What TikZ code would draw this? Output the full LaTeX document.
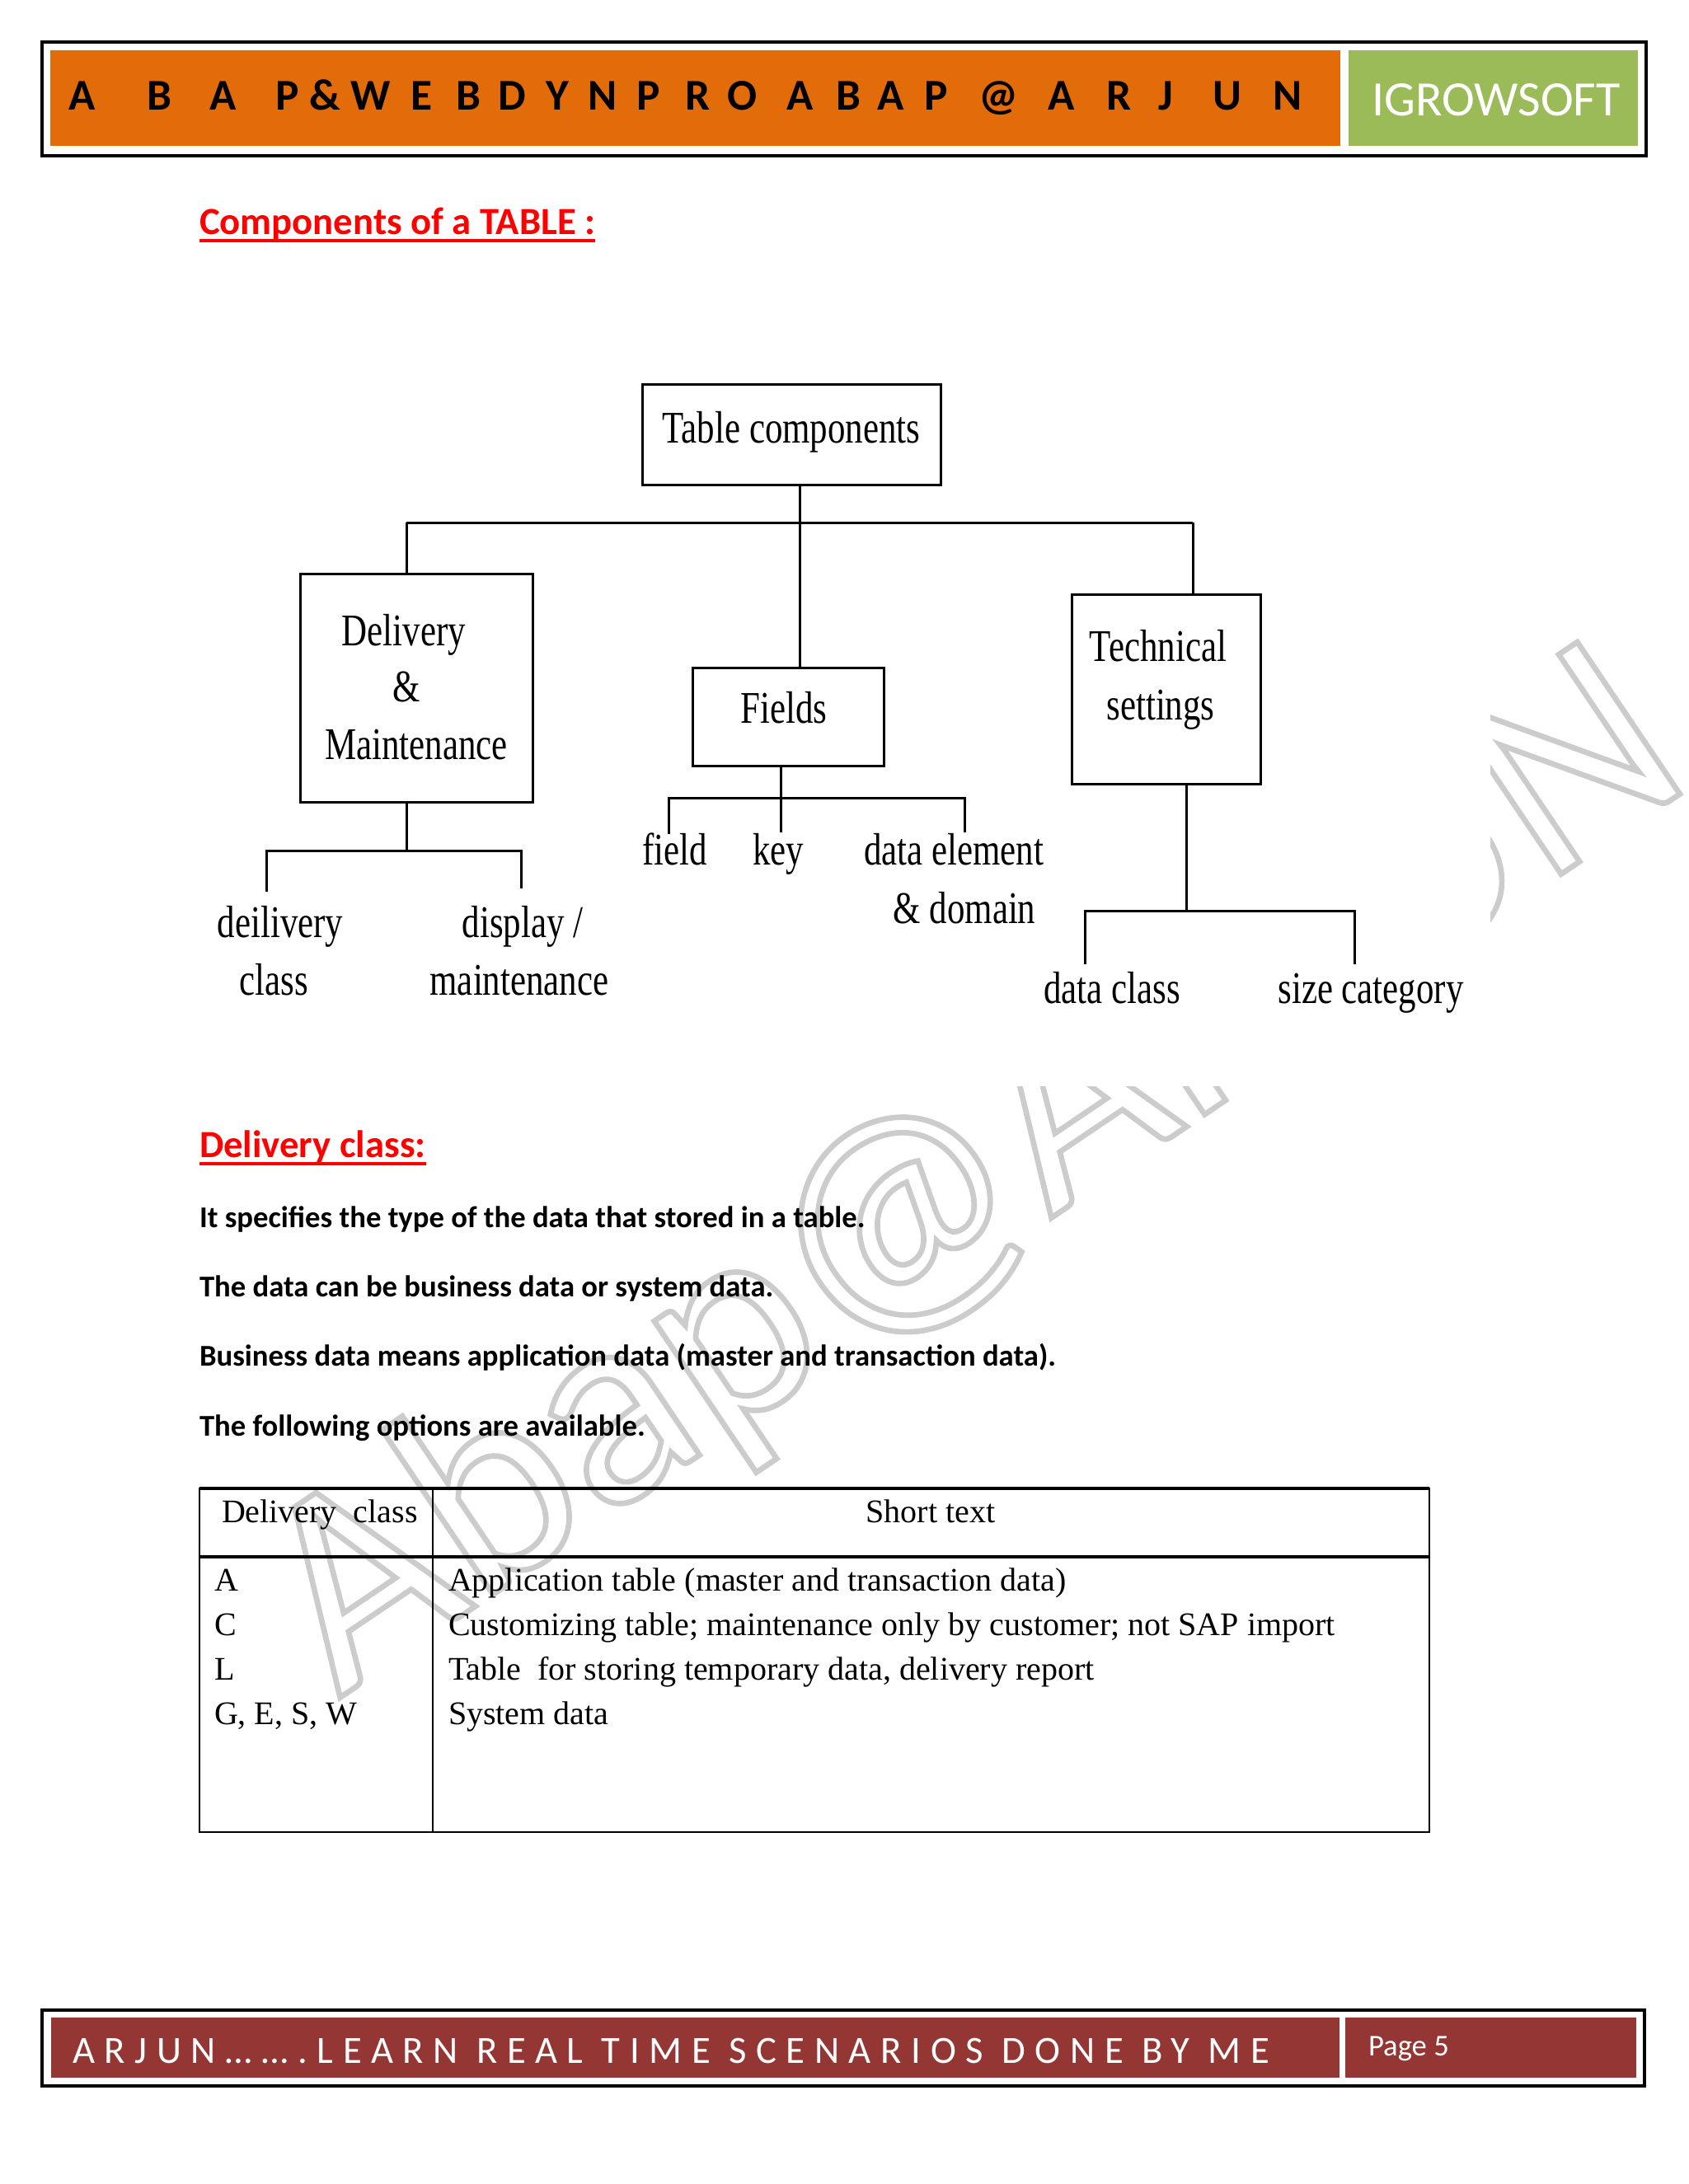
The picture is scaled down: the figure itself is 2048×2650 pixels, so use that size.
\documentclass[tikz,border=0pt]{standalone}
\usepackage{fontspec}
\setmainfont{Carlito}
\newfontfamily\serifn{Liberation Serif}
\newfontfamily\serifc[FakeStretch=0.78]{Liberation Serif}
\newfontfamily\spacedf[LetterSpace=25]{Carlito}
\usetikzlibrary{fit}
\definecolor{hdrorange}{RGB}{227,108,10}
\definecolor{hdrgreen}{RGB}{155,187,89}
\definecolor{ftrred}{RGB}{148,54,52}
\definecolor{headred}{RGB}{255,0,0}
\newcommand{\outlinetext}[1]{\special{pdf:literal direct 1 Tr 0.8 G 2 w}#1\special{pdf:literal direct 0 Tr 0 G 1 w}}
\begin{document}
\begin{tikzpicture}[x=0.29995pt,y=-0.29995pt,
  every node/.style={inner sep=0pt,outer sep=0pt},
  hl/.style={anchor=base,font=\bfseries\fontsize{16}{16}\selectfont},
  wm/.style={anchor=base,rotate=34,font=\fontsize{104}{104}\selectfont},
  heading/.style={anchor=base west,text=headred,font=\bfseries\fontsize{14}{14}\selectfont},
  body/.style={anchor=base west,font=\bfseries\fontsize{11}{11}\selectfont},
  box/.style={draw,line width=0.9pt,inner sep=0pt},
  tlab/.style={anchor=base,font=\serifc\fontsize{16.5}{20}\selectfont},
  conn/.style={line width=0.9pt},
  cell/.style={anchor=base west,font=\serifn\fontsize{12}{12}\selectfont},
  rule/.style={line width=0.8pt}]
\useasboundingbox (0,0) rectangle (2048,2650);
\fill[white] (0,0) rectangle (2048,2650);

% ---------- watermark ----------
\coordinate (wmc) at (1235,1505);
\node[wm] (wm) at (wmc) {\outlinetext{Abap@ARJUN}};
% area of the pasted diagram (covers the watermark)
\fill[white] (200,330) rectangle (1808,1318);

% ---------- header ----------
\draw[line width=1.2pt] (51,51) rectangle (1997,189);
\fill[hdrorange] (61,61) rectangle (1626,177);
\fill[hdrgreen] (1636,61) rectangle (1987,177);
\foreach \x/\l [count=\i] in {100/A,193/B,271/A,349/P,394/\&,450/W,512/E,568/B,621/D,676/Y,731/N,787/P,847/R,901/O,971/A,1029/B,1081/A,1136/P,1211/@,1288/A,1358/R,1414/J,1489/U,1562/N}
  \node[hl] (hl\i) at (\x,133) {\l};
\node[anchor=base,text=white,font=\fontsize{18}{18}\selectfont] (logo) at (1815,140) {IGROWSOFT};

% ---------- title ----------
\node[heading] (title) at (242,284) {Components of a TABLE :};
\draw[headred,line width=1.1pt] ([yshift=-2.4pt]title.base west) -- ([yshift=-2.4pt]title.base east);

% ---------- tree ----------
\node[box,fit={(779,466) (1141,588)}] (root) {};
\node[tlab] (rootT) at (960,537) {Table components};

\node[box,fit={(364,696) (646,973)}] (dm) {};
\node[tlab] (dmA) at (490,783) {Delivery};
\node[tlab] (dmB) at (493,851) {\&};
\node[tlab] (dmC) at (505,921) {Maintenance};

\node[box,fit={(840,810) (1072,929)}] (fields) {};
\node[tlab] (fieldsT) at (951,877) {Fields};

\node[box,fit={(1300,721) (1529,951)}] (tech) {};
\node[tlab] (techA) at (1405,802) {Technical};
\node[tlab] (techB) at (1408,873) {settings};

\node[tlab] (dc1) at (340,1137) {deilivery};
\node[tlab] (dc2) at (332,1207) {class};
\node[tlab] (dsp1) at (634,1137) {display /};
\node[tlab] (dsp2) at (630,1207) {maintenance};

\node[tlab] (fld) at (819,1049) {field};
\node[tlab] (key) at (944,1049) {key};
\node[tlab] (de1) at (1157,1049) {data element};
\node[tlab] (de2) at (1170,1120) {\& domain};

\node[tlab] (dcl) at (1349,1217) {data class};
\node[tlab] (szc) at (1663,1217) {size category};

% connectors: root
\coordinate (j0) at (970,634);
\coordinate (jL) at (493,634);
\coordinate (jR) at (1447,634);
\draw[conn] (root.south -| j0) -- (j0);
\draw[conn] (jL) -- (jR);
\draw[conn] (jL) -- (dm.north -| jL);
\draw[conn] (j0) -- (fields.north -| j0);
\draw[conn] (jR) -- (tech.north -| jR);
% delivery subtree
\coordinate (d0) at (493,1032);
\coordinate (dL) at (323,1032);
\coordinate (dR) at (632,1032);
\coordinate (dLe) at (323,1082);
\coordinate (dRe) at (632,1078);
\draw[conn] (dm.south -| d0) -- (d0);
\draw[conn] (dLe) -- (dL) -- (dR) -- (dRe);
% fields subtree
\coordinate (f0) at (947,968);
\coordinate (fL) at (811,968);
\coordinate (fR) at (1170,968);
\coordinate (fLe) at (811,1012);
\coordinate (f0e) at (947,1010);
\coordinate (fRe) at (1170,1010);
\draw[conn] (fields.south -| f0) -- (f0e);
\draw[conn] (fLe) -- (fL) -- (fR) -- (fRe);
% technical subtree
\coordinate (t0) at (1439,1105);
\coordinate (tL) at (1316,1105);
\coordinate (tR) at (1643,1105);
\coordinate (tLe) at (1316,1170);
\coordinate (tRe) at (1643,1170);
\draw[conn] (tech.south -| t0) -- (t0);
\draw[conn] (tLe) -- (tL) -- (tR) -- (tRe);

% ---------- delivery class text ----------
\node[heading] (dchead) at (242,1404) {Delivery class:};
\draw[headred,line width=1.1pt] ([yshift=-2.4pt]dchead.base west) -- ([yshift=-2.4pt]dchead.base east);
\node[body] (b1) at (242,1489) {It specifies the type of the data that stored in a table.};
\node[body] (b2) at (242,1573) {The data can be business data or system data.};
\node[body] (b3) at (242,1657) {Business data means application data (master and transaction data).};
\node[body] (b4) at (242,1742) {The following options are available.};

% ---------- table ----------
\draw[rule] (242,1806) rectangle (1734,2223);
\draw[line width=1.1pt] (242,1806) -- (1734,1806);
\draw[line width=1.1pt] (242,1889) -- (1734,1889);
\draw[rule] (525,1806) -- (525,2223);
\node[cell] (th1) at (269,1847) {Delivery\ \ class};
\node[cell,anchor=base] (th2) at (1129,1847) {Short text};
\node[cell] (c1a) at (260,1930) {A};
\node[cell] (c2a) at (260,1984) {C};
\node[cell] (c3a) at (260,2038) {L};
\node[cell] (c4a) at (260,2092) {G, E, S, W};
\node[cell] (c1b) at (544,1930) {Application table (master and transaction data)};
\node[cell] (c2b) at (544,1984) {Customizing table; maintenance only by customer; not SAP import};
\node[cell] (c3b) at (544,2038) {Table\ \ for storing temporary data, delivery report};
\node[cell] (c4b) at (544,2092) {System data};

% ---------- footer ----------
\draw[line width=1.2pt] (51,2439) rectangle (1995,2531);
\fill[ftrred] (62,2448) rectangle (1625,2521);
\fill[ftrred] (1632,2448) rectangle (1985,2521);
\node[anchor=base west,text=white,font=\spacedf\fontsize{14}{14}\selectfont] (ftxt) at (88,2503) {ARJUN…….LEARN REAL TIME SCENARIOS DONE BY ME};
\node[anchor=base west,text=white,font=\fontsize{11}{11}\selectfont] (page) at (1660,2494) {Page 5};
\end{tikzpicture}
\end{document}
